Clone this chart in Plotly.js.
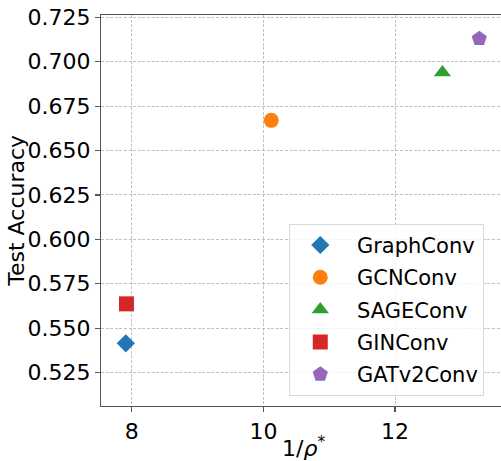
<!DOCTYPE html>
<html>
<head>
<meta charset="utf-8">
<script src="https://cdn.plot.ly/plotly-3.0.1.min.js"></script>
<style>html,body{margin:0;padding:0;background:#fff;}#chart{width:501px;height:461px;}</style>
</head>
<body>
<div id="chart"></div>
<script>
const models = ["GraphConv", "GCNConv", "SAGEConv", "GINConv", "GATv2Conv"];
const invRho = [7.91, 10.12, 12.72, 7.92, 13.28];
const testAcc = [0.5415, 0.667, 0.694, 0.5637, 0.713];
const colors = ["#1f77b4", "#ff7f0e", "#2ca02c", "#d62728", "#9467bd"];
const symbols = ["diamond", "circle", "triangle-up", "square", "pentagon"];
const sizes = [14, 15, 15, 15, 16];
const yTicks = [0.525, 0.550, 0.575, 0.600, 0.625, 0.650, 0.675, 0.700, 0.725];
const xTicks = [8, 10, 12];
const xTitle = "1/<i>ρ</i><sup>*</sup>";
const yTitle = "Test Accuracy";

const traces = models.map((m, i) => ({
  type: "scatter",
  mode: "markers",
  name: "\u00A0" + m,
  legendgroup: "g" + i,
  x: [invRho[i]],
  y: [testAcc[i]],
  marker: {color: colors[i], symbol: symbols[i], size: sizes[i], line: {width: 0}},
  hoverinfo: "skip"
}));

const fam = "DejaVu Sans, sans-serif";
const font = {family: fam, size: 21, color: "#000"};
const tickFont = {family: fam, size: 22, color: "#000"};
const gridDash = "3px,1.6px";
const layout = {
  width: 501, height: 461,
  margin: {l: 100.5, r: 0, t: 14.7, b: 55.3},
  paper_bgcolor: "#fff", plot_bgcolor: "#fff",
  font: font,
  showlegend: true,
  legend: {
    x: 0.4707, y: 0.026, xanchor: "left", yanchor: "bottom",
    bgcolor: "rgba(255,255,255,0.8)", bordercolor: "#d9d9d9", borderwidth: 1,
    font: font, traceorder: "grouped", tracegroupgap: 2, itemwidth: 50
  },
  xaxis: {
    range: [7.533, 13.61],
    tickvals: xTicks, ticktext: xTicks.map(String),
    showgrid: true, gridcolor: "#b3b3b3", griddash: gridDash, gridwidth: 0.8,
    zeroline: false,
    showline: true, linecolor: "#555", linewidth: 1.2, mirror: true,
    ticks: "outside", ticklen: 5, tickcolor: "#555", tickwidth: 1.2,
    tickfont: tickFont
  },
  yaxis: {
    range: [0.5062, 0.7263],
    tickvals: yTicks, ticktext: yTicks.map(v => v.toFixed(3)),
    showgrid: true, gridcolor: "#b3b3b3", griddash: gridDash, gridwidth: 0.8,
    zeroline: false,
    showline: true, linecolor: "#555", linewidth: 1.2, mirror: false,
    ticks: "outside", ticklen: 5, tickcolor: "#555", tickwidth: 1.2,
    tickfont: tickFont
  },
  annotations: [
    {text: xTitle, xref: "paper", yref: "paper", x: 0.505, y: -0.106,
     xanchor: "center", yanchor: "middle", showarrow: false, font: tickFont},
    {text: yTitle, xref: "paper", yref: "paper", x: -0.212, y: 0.5,
     xanchor: "center", yanchor: "middle", textangle: -90, showarrow: false, font: tickFont}
  ]
};
Plotly.newPlot("chart", traces, layout, {staticPlot: true, displayModeBar: false});
</script>
</body>
</html>
